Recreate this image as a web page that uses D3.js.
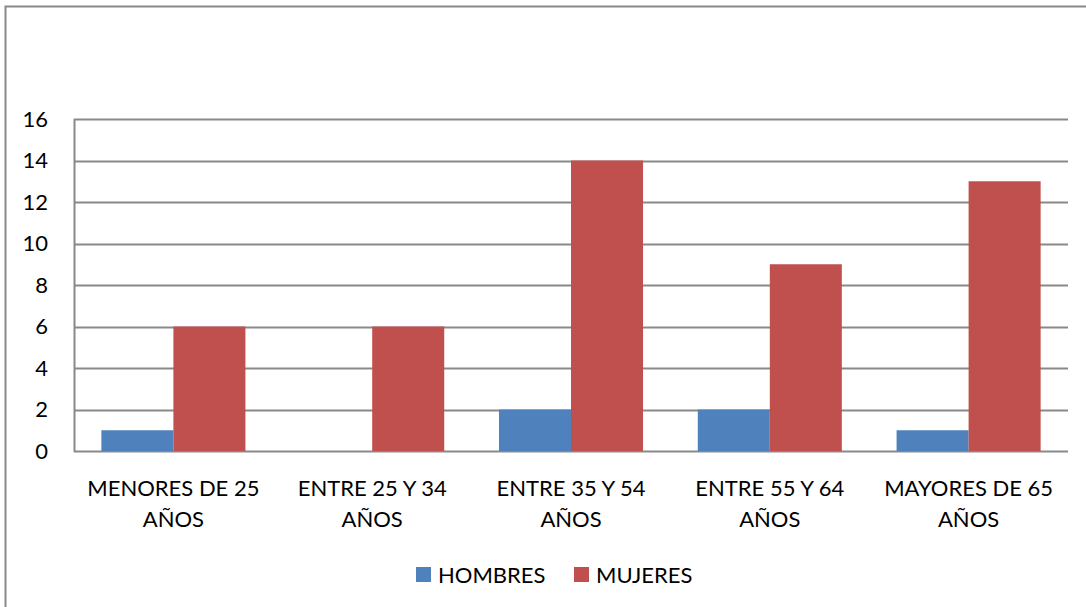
<!DOCTYPE html>
<html lang="es">
<head>
<meta charset="UTF-8">
<script src="https://d3js.org/d3.v7.min.js"></script>
<style>
  body { margin: 0; background: #fff; }
  svg text { font-family: Lato, "Open Sans", sans-serif; fill: #000; }
</style>
</head>
<body>
<div id="chart"></div>
<script>
const categories = [
  ["MENORES DE 25", "AÑOS"],
  ["ENTRE 25 Y 34", "AÑOS"],
  ["ENTRE 35 Y 54", "AÑOS"],
  ["ENTRE 55 Y 64", "AÑOS"],
  ["MAYORES DE 65", "AÑOS"]
];
const seriesNames = ["HOMBRES", "MUJERES"];
const hombres = [1, 0, 2, 2, 1];
const mujeres = [6, 6, 14, 9, 13];
const yTicks = [0, 2, 4, 6, 8, 10, 12, 14, 16];
const colors = ["#4F81BD", "#C0504D"];

const W = 1086, H = 607;
const plotL = 74, plotR = 1068, plotT = 119, plotB = 451;
const fs = 22;

const svg = d3.select("#chart").append("svg")
  .attr("width", W).attr("height", H);

// outer chart border (runs off the right/bottom edge)
svg.append("rect")
  .attr("x", 5.5).attr("y", 6.5)
  .attr("width", W + 10).attr("height", H + 10)
  .attr("fill", "none").attr("stroke", "#898989").attr("stroke-width", 2);

const x0 = d3.scaleBand()
  .domain(d3.range(categories.length))
  .range([plotL, plotR]);

const x1 = d3.scaleBand()
  .domain([0, 1])
  .range([0, x0.bandwidth()])
  .paddingInner(0)
  .paddingOuter(0.38);

const y = d3.scaleLinear().domain([0, 16]).range([plotB, plotT]);

// gridlines
svg.append("g")
  .selectAll("line")
  .data(yTicks)
  .join("line")
    .attr("x1", plotL).attr("x2", plotR)
    .attr("y1", d => Math.round(y(d)) + 0.5)
    .attr("y2", d => Math.round(y(d)) + 0.5)
    .attr("stroke", "#898989").attr("stroke-width", 2);

// bars
const rows = categories.map((c, i) => [hombres[i], mujeres[i]]);
svg.append("g")
  .selectAll("g")
  .data(rows)
  .join("g")
    .attr("transform", (d, i) => `translate(${x0(i)},0)`)
  .selectAll("rect")
  .data(d => d)
  .join("rect")
    .attr("x", (d, j) => x1(j))
    .attr("y", d => y(d))
    .attr("width", x1.bandwidth())
    .attr("height", d => y(0) - y(d))
    .attr("fill", (d, j) => colors[j]);

// y axis line
svg.append("line")
  .attr("x1", plotL + 0.5).attr("x2", plotL + 0.5)
  .attr("y1", plotT).attr("y2", plotB + 1)
  .attr("stroke", "#898989").attr("stroke-width", 2);

// y tick labels
svg.append("g")
  .selectAll("text")
  .data(yTicks)
  .join("text")
    .attr("x", 48)
    .attr("y", d => y(d))
    .attr("dy", "0.35em")
    .attr("text-anchor", "end")
    .attr("font-size", fs)
    .text(d => d);

// category labels
const cat = svg.append("g")
  .selectAll("text")
  .data(categories)
  .join("text")
    .attr("x", (d, i) => x0(i) + x0.bandwidth() / 2)
    .attr("y", 496)
    .attr("text-anchor", "middle")
    .attr("font-size", fs);
cat.selectAll("tspan")
  .data(d => d)
  .join("tspan")
    .attr("x", function () { return this.parentNode.getAttribute("x"); })
    .attr("dy", (d, k) => k === 0 ? 0 : 31)
    .text(d => d);

// legend
const legendX = [416, 574];
const legend = svg.append("g")
  .selectAll("g")
  .data(seriesNames)
  .join("g")
    .attr("transform", (d, i) => `translate(${legendX[i]},567)`);
legend.append("rect")
  .attr("width", 15).attr("height", 15)
  .attr("fill", (d, i) => colors[i]);
legend.append("text")
  .attr("x", 22).attr("y", 8)
  .attr("dy", "0.35em")
  .attr("font-size", fs)
  .text(d => d);
</script>
</body>
</html>
